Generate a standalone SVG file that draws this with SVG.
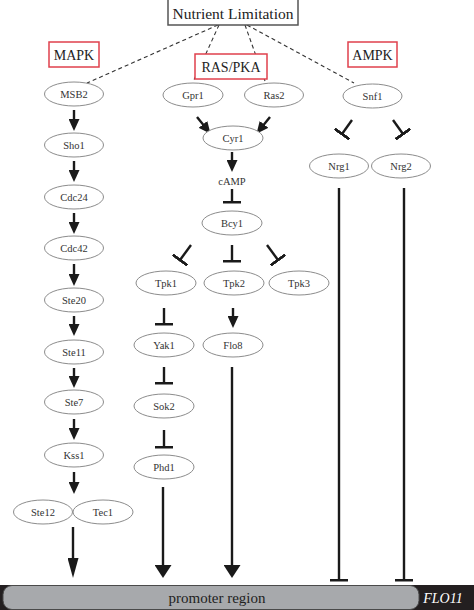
<svg xmlns="http://www.w3.org/2000/svg" width="474" height="610" viewBox="0 0 474 610">
<style>
.n ellipse{fill:#fff;stroke:#8c8c8c;stroke-width:1}
.n text{font-family:"Liberation Serif",serif;font-size:10.5px;fill:#333;text-anchor:middle}
.lbl rect{fill:#fff;stroke:#e0404c;stroke-width:1.5}
.lbl text{font-family:"Liberation Serif",serif;font-size:14px;fill:#222;text-anchor:middle}
.dash{stroke:#333;stroke-width:1.1;stroke-dasharray:4 3;fill:none}
.act{stroke:#1a1a1a;stroke-width:2.4;fill:none;marker-end:url(#a)}
.inh{stroke:#1a1a1a;stroke-width:2.4;fill:none;marker-end:url(#t)}
.big{stroke:#1a1a1a;stroke-width:2.4;fill:none;marker-end:url(#b)}
.bign{stroke:#1a1a1a;stroke-width:2.4;fill:none;marker-end:url(#bn)}
</style>
<defs>
<marker id="a" markerUnits="userSpaceOnUse" viewBox="0 0 12 11" markerWidth="12" markerHeight="11" refX="4" refY="5.5" orient="auto"><path d="M0,0 L12,5.5 L0,11 Z" fill="#1a1a1a"/></marker>
<marker id="b" markerUnits="userSpaceOnUse" viewBox="0 0 13 17" markerWidth="13" markerHeight="17" refX="4" refY="8.5" orient="auto"><path d="M0,0 L13,8.5 L0,17 Z" fill="#1a1a1a"/></marker>
<marker id="bn" markerUnits="userSpaceOnUse" viewBox="0 0 20 11" markerWidth="20" markerHeight="11" refX="5" refY="5.5" orient="auto"><path d="M0,0 L20,5.5 L0,11 Z" fill="#1a1a1a"/></marker>
<marker id="t" markerUnits="userSpaceOnUse" viewBox="0 0 3 18" markerWidth="3" markerHeight="18" refX="1.5" refY="9" orient="auto"><rect x="0" y="0" width="3" height="18" fill="#1a1a1a"/></marker>
</defs>

<g id="promoter">
<rect x="0" y="585" width="474" height="25" fill="#231f20"/>
<rect x="3" y="585.5" width="416" height="24" rx="9" ry="9" fill="#a7a9ac" stroke="#4a4a4a" stroke-width="1"/>
<text x="217" y="603" font-family="'Liberation Serif',serif" font-size="15" fill="#222" text-anchor="middle">promoter region</text>
<text x="443" y="603" font-family="'Liberation Serif',serif" font-size="14" font-style="italic" fill="#fff" text-anchor="middle">FLO11</text>
</g>

<g id="connectors">
<path class="dash" d="M218,25 L87,83"/>
<path class="dash" d="M219,25 L193,82"/>
<path class="dash" d="M245,25 L265,81"/>
<path class="dash" d="M247,25 L354,83"/>

<path class="act" d="M74,110 V123"/>
<path class="act" d="M74,161 V174"/>
<path class="act" d="M74,213 V226"/>
<path class="act" d="M74,264 V278"/>
<path class="act" d="M74,316 V328"/>
<path class="act" d="M74,368 V380"/>
<path class="act" d="M74,419 V432"/>
<path class="act" d="M74,472 V486"/>
<path class="bign" d="M73,527 V563"/>

<path class="act" d="M197,117 L205.5,127.5"/>
<path class="act" d="M270,117 L261.5,127.5"/>
<path class="act" d="M232,152 V164"/>
<path class="inh" d="M232,189 V202"/>
<path class="inh" d="M191,245 L180,260"/>
<path class="inh" d="M232,245 V261"/>
<path class="inh" d="M267,245 L278,260"/>
<path class="inh" d="M164,308 V324"/>
<path class="act" d="M233,308 V320"/>
<path class="inh" d="M164,367 V383"/>
<path class="inh" d="M164,430 V447"/>
<path class="big" d="M163,487 V569"/>
<path class="big" d="M232,367 V569"/>

<path class="inh" d="M352,120 L342,134"/>
<path class="inh" d="M393,120 L403,134"/>
<path class="inh" d="M339,188 V580"/>
<path class="inh" d="M404,188 V580"/>
</g>

<g id="nutrient">
<rect x="168" y="-1" width="130" height="26" fill="#fff" stroke="#555" stroke-width="1.5"/>
<text x="233" y="19" font-family="'Liberation Serif',serif" font-size="15.5" fill="#222" text-anchor="middle">Nutrient Limitation</text>
</g>
<g id="MAPK" class="lbl"><rect x="49" y="42" width="50" height="25"/><text x="74" y="60">MAPK</text></g>
<g id="RASPKA" class="lbl"><rect x="195" y="54" width="72" height="25"/><text x="231" y="72">RAS/PKA</text></g>
<g id="AMPK" class="lbl"><rect x="348" y="42" width="49" height="25"/><text x="372.5" y="60">AMPK</text></g>

<g id="MSB2" class="n"><ellipse cx="74" cy="94" rx="29.5" ry="12"/><text x="74" y="97.5">MSB2</text></g>
<g id="Sho1" class="n"><ellipse cx="74" cy="145" rx="29.5" ry="12"/><text x="74" y="148.5">Sho1</text></g>
<g id="Cdc24" class="n"><ellipse cx="74" cy="197" rx="29.5" ry="12"/><text x="74" y="200.5">Cdc24</text></g>
<g id="Cdc42" class="n"><ellipse cx="74" cy="248" rx="29.5" ry="12"/><text x="74" y="251.5">Cdc42</text></g>
<g id="Ste20" class="n"><ellipse cx="74" cy="300" rx="29.5" ry="12"/><text x="74" y="303.5">Ste20</text></g>
<g id="Ste11" class="n"><ellipse cx="74" cy="352" rx="29.5" ry="12"/><text x="74" y="355.5">Ste11</text></g>
<g id="Ste7" class="n"><ellipse cx="74" cy="402" rx="29.5" ry="12"/><text x="74" y="405.5">Ste7</text></g>
<g id="Kss1" class="n"><ellipse cx="74" cy="455" rx="29.5" ry="12"/><text x="74" y="458.5">Kss1</text></g>
<g id="Ste12" class="n"><ellipse cx="43" cy="512" rx="29.5" ry="12"/><text x="43" y="515.5">Ste12</text></g>
<g id="Tec1" class="n"><ellipse cx="103" cy="512" rx="30" ry="12"/><text x="103" y="515.5">Tec1</text></g>

<g id="Gpr1" class="n"><ellipse cx="193" cy="95" rx="30" ry="12"/><text x="193" y="98.5">Gpr1</text></g>
<g id="Ras2" class="n"><ellipse cx="274" cy="95" rx="29.5" ry="12"/><text x="274" y="98.5">Ras2</text></g>
<g id="Cyr1" class="n"><ellipse cx="233" cy="138" rx="30" ry="12"/><text x="233" y="141.5">Cyr1</text></g>
<g id="cAMP"><text x="232" y="185" font-family="'Liberation Serif',serif" font-size="10.5" fill="#333" text-anchor="middle">cAMP</text></g>
<g id="Bcy1" class="n"><ellipse cx="232" cy="223" rx="30" ry="12"/><text x="232" y="226.5">Bcy1</text></g>
<g id="Tpk1" class="n"><ellipse cx="166" cy="283" rx="30" ry="12"/><text x="166" y="286.5">Tpk1</text></g>
<g id="Tpk2" class="n"><ellipse cx="234" cy="283" rx="30" ry="12"/><text x="234" y="286.5">Tpk2</text></g>
<g id="Tpk3" class="n"><ellipse cx="299" cy="283" rx="30" ry="12"/><text x="299" y="286.5">Tpk3</text></g>
<g id="Yak1" class="n"><ellipse cx="164" cy="345" rx="30" ry="12"/><text x="164" y="348.5">Yak1</text></g>
<g id="Flo8" class="n"><ellipse cx="233" cy="345" rx="30" ry="12"/><text x="233" y="348.5">Flo8</text></g>
<g id="Sok2" class="n"><ellipse cx="164" cy="406" rx="30" ry="12"/><text x="164" y="409.5">Sok2</text></g>
<g id="Phd1" class="n"><ellipse cx="164" cy="467" rx="30" ry="12"/><text x="164" y="470.5">Phd1</text></g>

<g id="Snf1" class="n"><ellipse cx="372.5" cy="96" rx="29.5" ry="12"/><text x="372.5" y="99.5">Snf1</text></g>
<g id="Nrg1" class="n"><ellipse cx="339" cy="166" rx="29.5" ry="12"/><text x="339" y="169.5">Nrg1</text></g>
<g id="Nrg2" class="n"><ellipse cx="401" cy="166" rx="29.5" ry="12"/><text x="401" y="169.5">Nrg2</text></g>
</svg>
